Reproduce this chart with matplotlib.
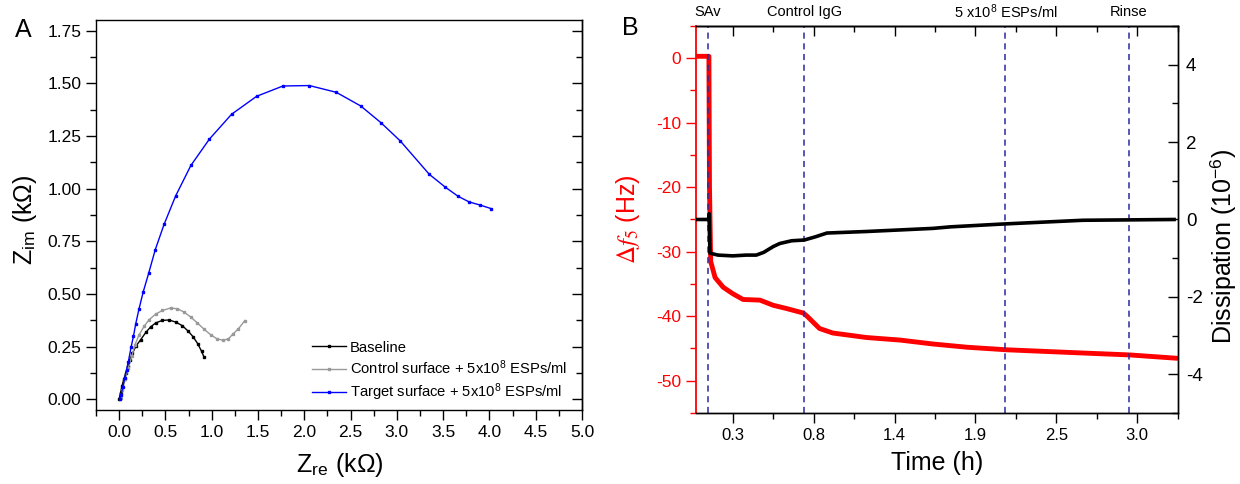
import matplotlib.pyplot as plt
import matplotlib.ticker as mticker
import matplotlib.transforms as mtransforms

plt.rcParams['font.family'] = 'Liberation Sans'
plt.rcParams['mathtext.fontset'] = 'stix'
plt.rcParams['axes.unicode_minus'] = False
plt.rcParams['axes.linewidth'] = 1.0
plt.rcParams['xtick.major.size'] = 7
plt.rcParams['ytick.major.size'] = 7
plt.rcParams['xtick.minor.size'] = 4
plt.rcParams['ytick.minor.size'] = 4
plt.rcParams['xtick.major.width'] = 1.0
plt.rcParams['ytick.major.width'] = 1.0
plt.rcParams['xtick.minor.width'] = 1.0
plt.rcParams['ytick.minor.width'] = 1.0

# ---- Panel A: Nyquist plots (kOhm) ----
base_re = [0.0, 0.015, 0.03, 0.05, 0.072, 0.094, 0.115, 0.144, 0.18, 0.234, 0.288,
           0.34, 0.395, 0.467, 0.539, 0.611, 0.683, 0.748, 0.80, 0.848, 0.89, 0.916]
base_im = [0.003, 0.032, 0.063, 0.095, 0.126, 0.158, 0.189, 0.218, 0.252, 0.284, 0.318,
           0.344, 0.363, 0.375, 0.377, 0.367, 0.350, 0.323, 0.297, 0.265, 0.229, 0.202]

ctrl_re = [0.015, 0.036, 0.065, 0.10, 0.137, 0.172, 0.216, 0.27, 0.323, 0.395, 0.467,
           0.557, 0.629, 0.70, 0.773, 0.845, 0.916, 0.988, 1.06, 1.121, 1.179, 1.233,
           1.286, 1.358]
ctrl_im = [0.008, 0.047, 0.095, 0.15, 0.205, 0.26, 0.307, 0.347, 0.378, 0.405, 0.422,
           0.434, 0.430, 0.415, 0.391, 0.363, 0.334, 0.307, 0.287, 0.281, 0.287, 0.312,
           0.334, 0.374]

targ_re = [0.01, 0.02, 0.04, 0.06, 0.08, 0.10, 0.13, 0.155, 0.18, 0.215, 0.26, 0.32,
           0.39, 0.485, 0.61, 0.775, 0.975, 1.215, 1.485, 1.77, 2.055, 2.345, 2.61,
           2.83, 3.035, 3.35, 3.52, 3.66, 3.78, 3.90, 4.02]
targ_im = [0.00, 0.02, 0.06, 0.10, 0.14, 0.18, 0.25, 0.30, 0.36, 0.43, 0.51, 0.60,
           0.71, 0.83, 0.965, 1.11, 1.235, 1.353, 1.438, 1.487, 1.489, 1.457, 1.392,
           1.312, 1.227, 1.068, 1.008, 0.964, 0.937, 0.922, 0.905]

legend_labels = ['Baseline',
                 'Control surface + 5x10$^{\\mathregular{8}}$ ESPs/ml',
                 'Target surface + 5x10$^{\\mathregular{8}}$ ESPs/ml']

# ---- Panel B: QCM-D (time in h) ----
t_freq = [0.047, 0.138, 0.142, 0.15, 0.18, 0.235, 0.30, 0.37, 0.485, 0.575, 0.665,
          0.78, 0.81, 0.89, 0.98, 1.21, 1.44, 1.66, 1.89, 2.16, 2.68, 3.0, 3.31]
df5 = [0.3, 0.3, -20.0, -31.5, -34.0, -35.5, -36.5, -37.4, -37.5, -38.3, -38.8,
       -39.5, -40.1, -41.9, -42.6, -43.3, -43.7, -44.3, -44.8, -45.2, -45.7, -46.0, -46.5]

t_diss = [0.047, 0.135, 0.14, 0.145, 0.20, 0.30, 0.39, 0.46, 0.51, 0.575, 0.62, 0.70,
          0.786, 0.86, 0.94, 1.21, 1.66, 1.78, 2.12, 2.23, 2.68, 3.30]
diss = [0.0, 0.0, 0.15, -0.87, -0.92, -0.94, -0.92, -0.92, -0.85, -0.70, -0.62, -0.55,
        -0.53, -0.45, -0.35, -0.31, -0.23, -0.19, -0.12, -0.10, -0.02, 0.0]

events_t = [0.13, 0.786, 2.154, 2.991]
events_lbl = ['SAv', 'Control IgG', '5 x10$^{\\mathregular{8}}$ ESPs/ml', 'Rinse']

time_ticks = [0.3, 0.85, 1.4, 1.95, 2.5, 3.05]
time_labels = ['0.3', '0.8', '1.4', '1.9', '2.5', '3.0']
time_minor = [0.575, 1.125, 1.675, 2.225, 2.775, 3.325]

fig = plt.figure(figsize=(12.4, 4.84), dpi=100)

# ================= Panel A =================
axA = fig.add_axes([0.0774, 0.1529, 0.3920, 0.8058])
mk = dict(marker='s', markersize=2.0, linewidth=1.0)
axA.plot(base_re, base_im, color='black', label=legend_labels[0], **mk)
axA.plot(ctrl_re, ctrl_im, color='#999999', label=legend_labels[1], **mk)
axA.plot(targ_re, targ_im, color='#0000ff', label=legend_labels[2], **mk)

axA.set_xlim(-0.25, 5.0)
axA.set_ylim(-0.05, 1.80)
axA.xaxis.set_major_locator(mticker.MultipleLocator(0.5))
axA.xaxis.set_minor_locator(mticker.MultipleLocator(0.25))
axA.yaxis.set_major_locator(mticker.MultipleLocator(0.25))
axA.yaxis.set_minor_locator(mticker.MultipleLocator(0.125))
axA.xaxis.set_major_formatter(mticker.FormatStrFormatter('%.1f'))
axA.yaxis.set_major_formatter(mticker.FormatStrFormatter('%.2f'))
axA.tick_params(which='both', direction='out', labelsize=12.5)
secA = axA.secondary_yaxis('right')
secA.yaxis.set_major_locator(mticker.MultipleLocator(0.25))
secA.yaxis.set_minor_locator(mticker.MultipleLocator(0.125))
secA.tick_params(which='both', direction='in', labelright=False)

axA.set_xlabel('Z$_{\\mathregular{re}}$ (k\u03a9)', fontsize=18)
axA.set_ylabel('Z$_{\\mathregular{im}}$ (k\u03a9)', fontsize=18)
axA.xaxis.set_label_coords(0.502, -0.105)
axA.yaxis.set_label_coords(-0.118, 0.487)

axA.legend(loc='upper left', bbox_to_anchor=(0.445, 0.178), frameon=False,
           fontsize=10.6, handlelength=2.3, handletextpad=0.25, labelspacing=0.28,
           borderpad=0, borderaxespad=0)

fig.text(0.019, 0.937, 'A', fontsize=18, ha='center', va='center')

# ================= Panel B =================
axB = fig.add_axes([0.5609, 0.1467, 0.3889, 0.7996])
axB.plot(t_freq, df5, color='#ff0000', linewidth=3.5, solid_joinstyle='round')
for t in events_t:
    axB.axvline(t, color='#2a2aa0', linestyle=(0, (4, 3)), linewidth=1.1)

axB.set_xlim(0.047, 3.325)
axB.set_ylim(-55, 5)
axB.set_xticks(time_ticks)
axB.set_xticklabels(time_labels)
axB.set_xticks(time_minor, minor=True)
axB.yaxis.set_major_locator(mticker.MultipleLocator(10))
axB.yaxis.set_minor_locator(mticker.MultipleLocator(5))
axB.tick_params(which='both', direction='out', labelsize=12)
axB.tick_params(axis='y', which='both', colors='#ff0000', labelsize=12.5)
axB.spines['left'].set_color('#ff0000')
axB.spines['left'].set_linewidth(1.3)
axB.set_ylabel('$\\Delta f_5$ (Hz)', color='#ff0000', fontsize=18)
axB.yaxis.set_label_coords(-0.112, 0.5)
axB.set_xlabel('Time (h)', fontsize=18)
axB.xaxis.set_label_coords(0.5, -0.098)

secB = axB.secondary_xaxis('top')
secB.set_xticks(time_ticks)
secB.set_xticks(time_minor, minor=True)
secB.tick_params(which='both', direction='in', labeltop=False)

axD = axB.twinx()
axD.plot(t_diss, diss, color='black', linewidth=2.6)
axD.set_ylim(-5, 5)
axD.yaxis.set_major_locator(mticker.MultipleLocator(2))
axD.yaxis.set_minor_locator(mticker.MultipleLocator(1))
axD.tick_params(which='both', direction='in', labelsize=13.5, pad=6)
axD.spines['left'].set_visible(False)
axD.set_ylabel('Dissipation (10$^{\\mathregular{-6}}$)', fontsize=18)
axD.yaxis.set_label_coords(1.064, 0.43)

trans = mtransforms.blended_transform_factory(axB.transData, axB.transAxes)
for t, lbl in zip(events_t, events_lbl):
    axB.text(t, 1.036, lbl, transform=trans, ha='center', va='center', fontsize=10.5)

fig.text(0.508, 0.942, 'B', fontsize=18, ha='center', va='center')

fig.savefig('out.png', dpi=100)
